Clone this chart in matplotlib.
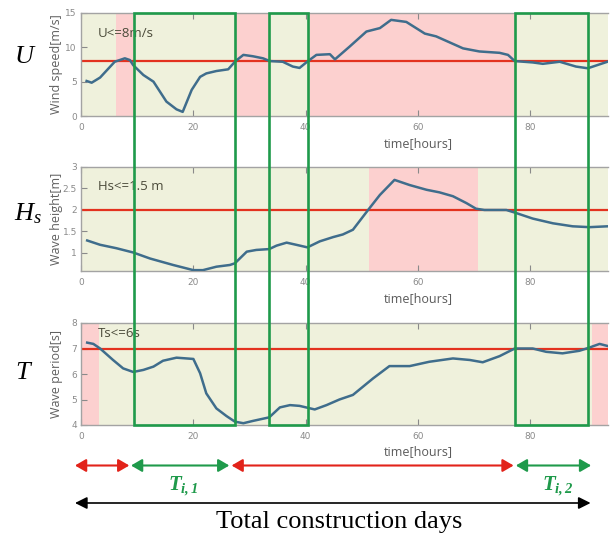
import matplotlib
matplotlib.use("Agg")
import matplotlib.pyplot as plt
from matplotlib.patches import Rectangle, FancyArrowPatch
from matplotlib.transforms import blended_transform_factory

plt.rcParams['mathtext.fontset'] = 'custom'
plt.rcParams['mathtext.it'] = 'Liberation Serif:italic'
plt.rcParams['mathtext.rm'] = 'Liberation Serif'
plt.rcParams['mathtext.bf'] = 'Liberation Serif:italic:bold'

# ---------------- data ----------------
wind_t = [1.0, 1.9, 3.4, 6.0, 7.8, 8.7, 9.3, 11.1, 12.9, 15.2, 17.0, 18.1, 19.7, 21.2, 22.3,
          24.1, 26.2, 27.5, 28.9, 30.6, 32.4, 33.6, 35.9, 37.7, 38.9, 40.4, 41.9, 44.3, 45.2,
          47.8, 50.8, 53.2, 55.2, 57.9, 61.2, 63.2, 68.0, 70.9, 74.5, 76.0, 77.2, 80.4, 82.2,
          85.2, 88.1, 90.2, 93.7]
wind_v = [5.1, 4.85, 5.6, 7.9, 8.4, 8.15, 7.4, 5.97, 5.0, 2.1, 0.97, 0.6, 3.8, 5.7, 6.2,
          6.55, 6.8, 8.0, 8.9, 8.7, 8.4, 8.0, 7.9, 7.2, 7.0, 8.0, 8.9, 9.0, 8.25,
          10.1, 12.3, 12.8, 14.0, 13.7, 12.0, 11.6, 9.85, 9.4, 9.2, 8.9, 8.0, 7.8, 7.6,
          7.9, 7.2, 6.95, 7.9]

wave_t = [1.1, 3.4, 6.3, 9.3, 12.3, 16.4, 20.0, 21.7, 24.1, 26.5, 27.4, 29.5, 31.2, 33.5,
          34.8, 36.6, 38.3, 40.3, 42.5, 44.9, 46.6, 48.4, 51.1, 53.2, 55.8, 58.5, 61.5, 63.8,
          66.2, 68.6, 70.3, 71.8, 75.7, 77.2, 80.4, 84.0, 87.5, 90.5, 93.7]
wave_h = [1.29, 1.19, 1.11, 1.01, 0.87, 0.72, 0.6, 0.6, 0.68, 0.72, 0.76, 1.03, 1.07, 1.09,
          1.17, 1.24, 1.19, 1.13, 1.27, 1.37, 1.43, 1.54, 2.0, 2.35, 2.70, 2.58, 2.47, 2.41,
          2.32, 2.16, 2.03, 2.0, 2.0, 1.94, 1.80, 1.69, 1.62, 1.60, 1.62]

per_t = [1.1, 2.2, 3.4, 5.7, 7.5, 9.3, 11.1, 12.9, 14.6, 17.0, 20.0, 21.2, 22.3, 24.1, 25.9,
         27.4, 28.9, 30.6, 33.5, 35.4, 37.2, 38.9, 41.6, 43.7, 46.0, 48.4, 52.0, 54.9, 58.5,
         62.0, 66.2, 69.2, 71.5, 74.5, 77.2, 80.4, 82.8, 85.7, 88.7, 90.4, 92.3, 93.7]
per_v = [7.23, 7.18, 7.0, 6.55, 6.22, 6.08, 6.16, 6.29, 6.52, 6.64, 6.59, 6.03, 5.24, 4.65, 4.35,
         4.13, 4.07, 4.16, 4.3, 4.69, 4.78, 4.75, 4.61, 4.78, 5.0, 5.18, 5.83, 6.31, 6.31,
         6.48, 6.61, 6.55, 6.46, 6.70, 7.0, 7.0, 6.87, 6.81, 6.91, 7.03, 7.18, 7.1]

thresholds = [8, 2, 7]
limit_texts = ["U<=8m/s", "Hs<=1.5 m", "Ts<=6s"]
limit_text_y = [12.0, 2.55, 7.6]
ylabels = ["Wind speed[m/s]", "Wave height[m]", "Wave period[s]"]
side_labels = [r"$U$", r"$H_s$", r"$T$"]
ylims = [(0, 15), (0.58, 3.0), (4, 8)]
yticks = [[0, 5, 10, 15], [1, 1.5, 2, 2.5, 3], [4, 5, 6, 7, 8]]
yticklabels = [["0", "5", "10", "15"], ["1", "1.5", "2", "2.5", "3"], ["4", "5", "6", "7", "8"]]
xticks = [0, 20, 40, 60, 80]
red_spans = [[(6.2, 9.4), (27.4, 33.4), (40.4, 77.2)],
             [(51.2, 70.6)],
             [(0, 3.2), (90.9, 94)]]
windows = [(9.4, 27.4), (33.4, 40.4), (77.2, 90.3)]
segments = [(-1.07, 8.6, 'red'), (8.9, 26.4, 'green'), (26.8, 77.0, 'red'), (77.4, 90.8, 'green')]
window_labels = [(18.2, r"$\mathbf{T_{i,1}}$"), (84.8, r"$\mathbf{T_{i,2}}$")]
total_span = (-1.07, 90.7)
series = [(wind_t, wind_v), (wave_t, wave_h), (per_t, per_v)]

# ---------------- style ----------------
BEIGE = '#eff1dc'
PINK = '#fcd0cf'
CURVE = '#3f6d8c'
REDLINE = '#e3321f'
GREEN = '#1f9a4b'
ARROWRED = '#e2231a'

W, H = 611, 534
fig = plt.figure(figsize=(W / 100, H / 100), dpi=100)

left = 81 / W
right = 608 / W
panel_px = [(13, 116), (167, 271), (323, 425)]
side_pos = [(25, 56), (28, 213), (24, 372)]

axes = []
for i, (top, bot) in enumerate(panel_px):
    ax = fig.add_axes([left, 1 - bot / H, right - left, (bot - top) / H])
    axes.append(ax)
    ax.set_facecolor(BEIGE)
    for a, b in red_spans[i]:
        ax.axvspan(a, b, color=PINK, lw=0, zorder=0)
    t, v = series[i]
    ax.plot(t, v, color=CURVE, lw=1.8, zorder=3, solid_joinstyle='round')
    ax.axhline(thresholds[i], color=REDLINE, lw=1.6, zorder=2)
    ax.set_xlim(0, 93.8)
    ax.set_ylim(*ylims[i])
    ax.set_xticks(xticks)
    ax.set_yticks(yticks[i])
    ax.set_yticklabels(yticklabels[i])
    ax.tick_params(direction='in', top=True, right=False, length=4, width=0.8,
                   colors='#8a8a8a', labelsize=6.5)
    ax.tick_params(axis='y', pad=3)
    ax.tick_params(axis='x', pad=5)
    for s in ax.spines.values():
        s.set_color('#a3a3a3')
        s.set_linewidth(1.0)
    ax.spines['right'].set_visible(False)
    ax.text(3.0, limit_text_y[i], limit_texts[i], fontsize=9.5, color='#4b4b3a',
            family='Open Sans', va='center', ha='left', zorder=4)
    ax.text(-0.047, 0.5, ylabels[i], transform=ax.transAxes, rotation=90,
            ha='center', va='center', fontsize=9, color='#606060', family='Open Sans')
    ax.text(0.64, -0.265, "time[hours]", transform=ax.transAxes, ha='center', va='center',
            fontsize=9, color='#5a5a5a', family='Open Sans')
    sx, sy = side_pos[i]
    fig.text(sx / W, 1 - sy / H, side_labels[i], fontsize=19, ha='center', va='center',
             color='black')

ax3 = axes[2]
tr = blended_transform_factory(ax3.transData, fig.transFigure)
y_top = 1 - 13 / H
y_bot = 1 - 425 / H
for a, b in windows:
    rect = Rectangle((a, y_bot), b - a, y_top - y_bot, transform=tr, fill=False,
                     edgecolor=GREEN, lw=1.9, zorder=10, clip_on=False)
    fig.add_artist(rect)

y_arrow = 1 - 465.5 / H
for a, b, c in segments:
    col = ARROWRED if c == 'red' else GREEN
    arr = FancyArrowPatch((a, y_arrow), (b, y_arrow), transform=tr,
                          arrowstyle='<|-|>,head_length=0.55,head_width=0.32',
                          mutation_scale=12, color=col, lw=1.5, shrinkA=0, shrinkB=0,
                          clip_on=False)
    fig.add_artist(arr)

for x, lab in window_labels:
    fig.text(x, 1 - 486 / H, lab, transform=tr, fontsize=15, color=GREEN,
             ha='center', va='center')

y_tot = 1 - 503 / H
arr = FancyArrowPatch((total_span[0], y_tot), (total_span[1], y_tot), transform=tr,
                      arrowstyle='<|-|>,head_length=0.6,head_width=0.3',
                      mutation_scale=12, color='black', lw=1.2, shrinkA=0, shrinkB=0,
                      clip_on=False)
fig.add_artist(arr)

fig.text(339 / W, 1 - 528 / H, "Total construction days", fontsize=19,
         family='Liberation Serif', ha='center', va='baseline', color='black')

fig.savefig("out.png", dpi=100)
